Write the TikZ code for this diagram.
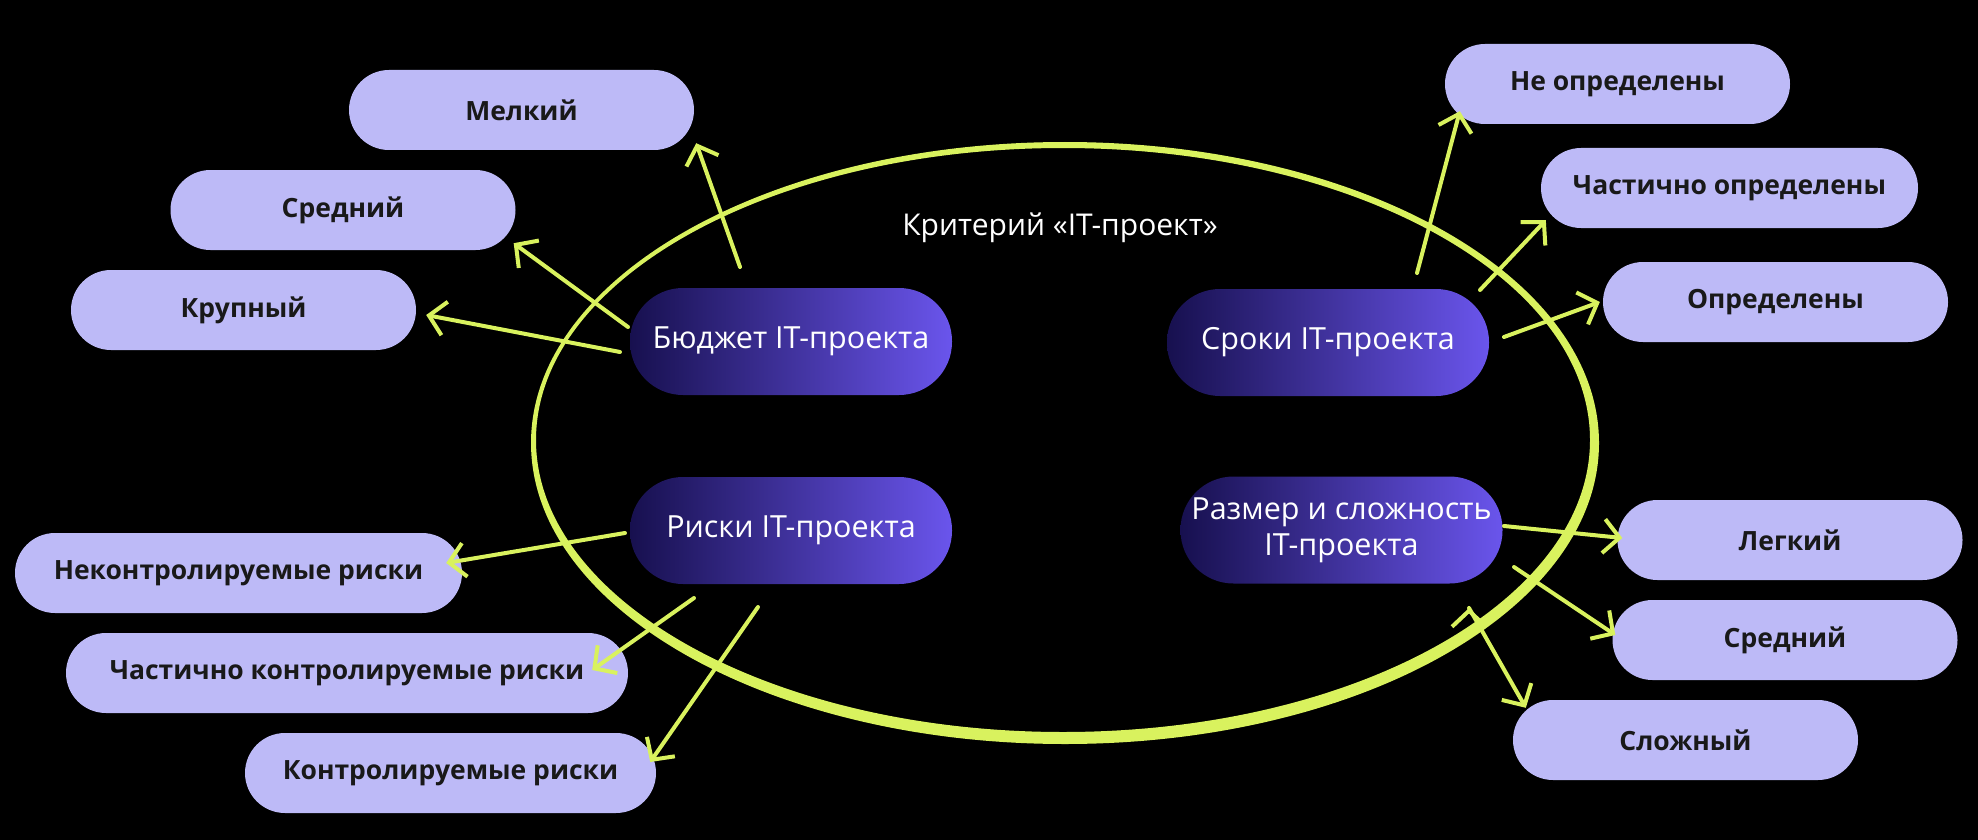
\documentclass[tikz,border=0pt]{standalone}
\usepackage{fontspec}
\setmainfont{Open Sans}
\usetikzlibrary{arrows.meta}
\definecolor{lav}{HTML}{BDBAF7}
\definecolor{lime}{HTML}{D9F25E}
\definecolor{hubl}{HTML}{17104F}
\definecolor{hubr}{HTML}{6A55EC}
\begin{document}
\begin{tikzpicture}[x=1pt, y=-1pt,
    hub/.style={rectangle, rounded corners=53pt, minimum width=322pt, minimum height=107pt,
      left color=hubl, right color=hubr, text=white, align=center, inner sep=0pt,
      font=\fontsize{30.5}{36}\selectfont},
    leaf/.style={rectangle, rounded corners=40pt, minimum width=345pt, minimum height=80pt,
      fill=lav, text=black!90, inner sep=0pt, font=\fontsize{26.5}{30}\selectfont\bfseries},
    arr/.style={draw=lime, line width=4pt, line cap=round,
      -{Straight Barb[length=16pt, width=34pt, line width=4pt]}}]
      \fill [black] (0, 0) rectangle (1978, 840);
      \useasboundingbox (0, 0) rectangle (1978, 840);
      % the big ring, thicker at the bottom
      \fill [lime, even odd rule] (1065, 443) ellipse [x radius=534pt, y radius=301pt]
                                  (1063, 440) ellipse [x radius=527pt, y radius=292pt];
      \node (crit) [text=white, font=\fontsize{30}{34}\selectfont] at (1060, 228) {Критерий «IT-проект»};
      \node (bud) [hub] at (791, 341.5) {Бюджет IT-проекта};
      \node (dl)  [hub] at (1328, 342.5) {Сроки IT-проекта};
      \node (rsk) [hub] at (791, 530.5) {Риски IT-проекта};
      \node (sz)  [hub] at (1341.5, 530) {Размер и сложность\\IT-проекта};
      \node (bsmall) [leaf] at (521.5, 110) {Мелкий};
      \node (bmid)   [leaf] at (343, 210) {Средний};
      \node (bbig)   [leaf] at (243.5, 310) {Крупный};
      \node (dnone) [leaf] at (1617.5, 84) {Не определены};
      \node (dpart) [leaf, minimum width=377pt] at (1729.5, 188) {Частично определены};
      \node (dfull) [leaf] at (1775.5, 302) {Определены};
      \node (rnone) [leaf, minimum width=447pt] at (238.5, 573) {Неконтролируемые риски};
      \node (rpart) [leaf, minimum width=562pt] at (347, 673) {Частично контролируемые риски};
      \node (rfull) [leaf, minimum width=411pt] at (450.5, 773) {Контролируемые риски};
      \node (seasy) [leaf] at (1790, 540) {Легкий};
      \node (smid)  [leaf] at (1785, 640) {Средний};
      \node (shard) [leaf] at (1685.5, 740) {Сложный};
      \draw [arr] ([shift={(-51, -74.5)}]bud.center) edge ([shift={(2, -7)}]bsmall.south east)
                  ([shift={(-163, -14.5)}]bud.center) edge ([shift={(-2, -7)}]bmid.south east)
                  ([shift={(-171, 10.5)}]bud.center) edge ([shift={(10, 5)}]bbig.east)
                  ([shift={(89, -69.5)}]dl.center) edge ([shift={(15, -13)}]dnone.south west)
                  ([shift={(152, -52.5)}]dl.center) edge ([shift={(5, -8)}]dpart.south west)
                  ([shift={(176, -5.5)}]dl.center) edge ([shift={(-3, 0)}]dfull.west)
                  ([shift={(-166, 2.5)}]rsk.center) edge ([shift={(-16, -10)}]rnone.east)
                  ([shift={(-97, 67.5)}]rsk.center) edge ([shift={(-36, -3)}]rpart.east)
                  ([shift={(-33, 76.5)}]rsk.center) edge ([shift={(-6, -11)}]rfull.east)
                  ([shift={(162.5, -4)}]sz.center) edge ([shift={(5, -2)}]seasy.west)
                  ([shift={(172.5, 37)}]sz.center) edge ([shift={(3, -5)}]smid.west)
                  ([shift={(127.5, 78)}]sz.center) edge ([shift={(13, 8)}]shard.north west);
\end{tikzpicture}
\end{document}
